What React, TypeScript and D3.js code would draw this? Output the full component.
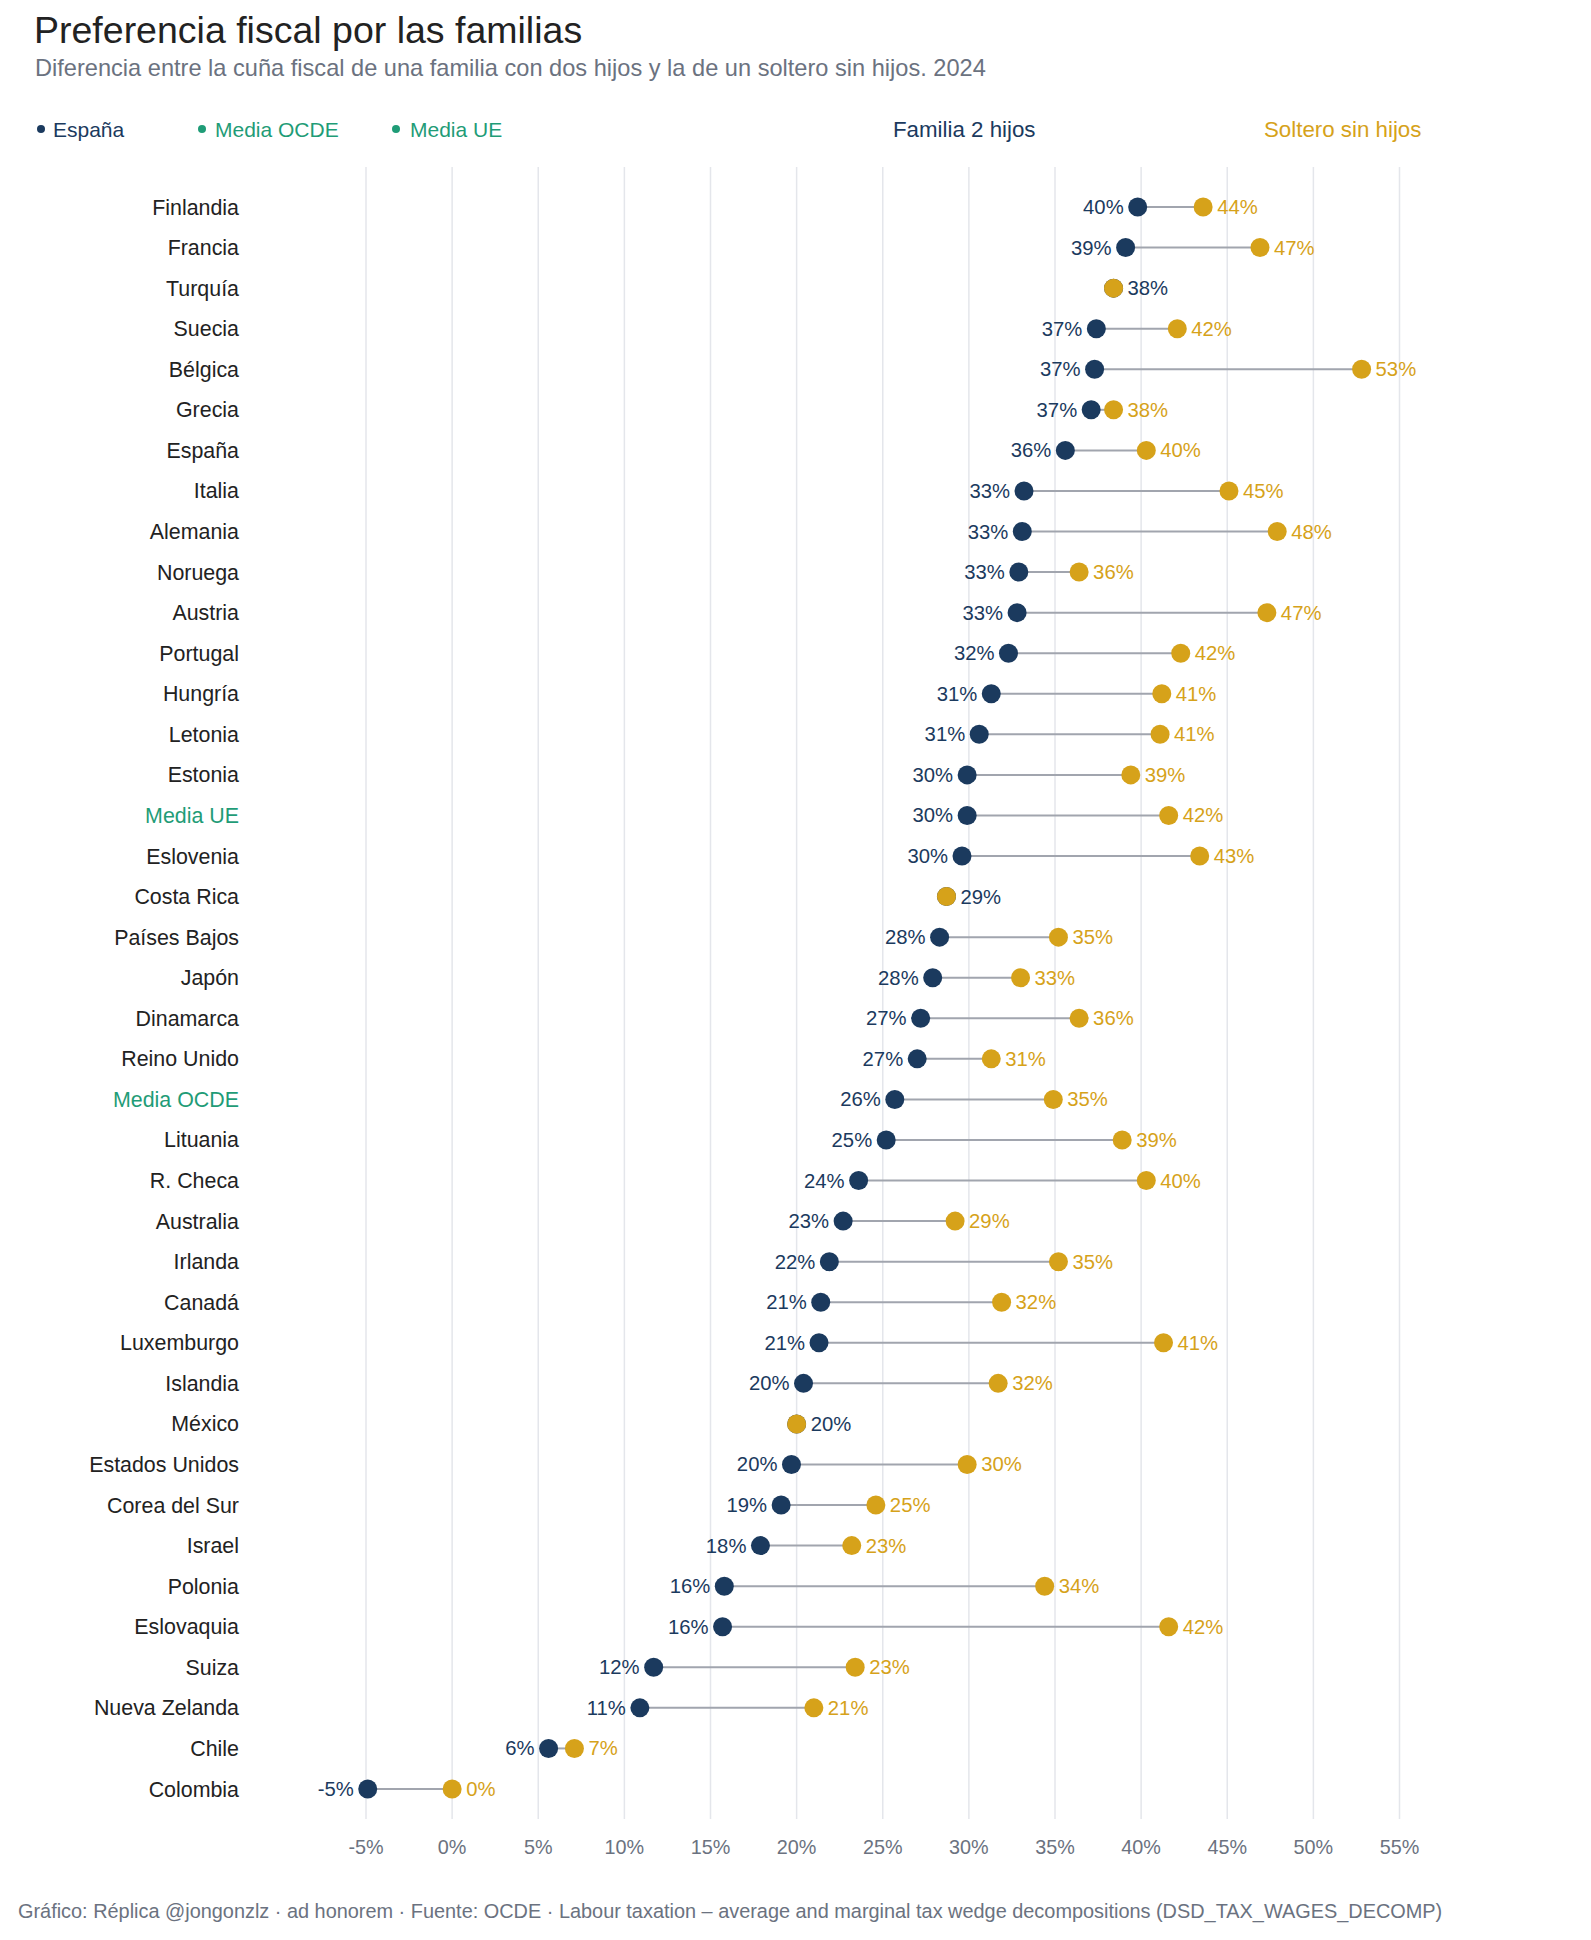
import React from "react";
import * as d3 from "d3";

// Cuña fiscal 2024 (%), familia con dos hijos vs. soltero sin hijos
const paises = [
  "Finlandia", "Francia", "Turquía", "Suecia", "Bélgica", "Grecia", "España",
  "Italia", "Alemania", "Noruega", "Austria", "Portugal", "Hungría", "Letonia",
  "Estonia", "Media UE", "Eslovenia", "Costa Rica", "Países Bajos", "Japón",
  "Dinamarca", "Reino Unido", "Media OCDE", "Lituania", "R. Checa", "Australia",
  "Irlanda", "Canadá", "Luxemburgo", "Islandia", "México", "Estados Unidos",
  "Corea del Sur", "Israel", "Polonia", "Eslovaquia", "Suiza", "Nueva Zelanda",
  "Chile", "Colombia",
];

const familia = [
  39.8, 39.1, 38.4, 37.4, 37.3, 37.1, 35.6,
  33.2, 33.1, 32.9, 32.8, 32.3, 31.3, 30.6,
  29.9, 29.9, 29.6, 28.7, 28.3, 27.9,
  27.2, 27.0, 25.7, 25.2, 23.6, 22.7,
  21.9, 21.4, 21.3, 20.4, 20.0, 19.7,
  19.1, 17.9, 15.8, 15.7, 11.7, 10.9,
  5.6, -4.9,
];

const soltero = [
  43.6, 46.9, 38.4, 42.1, 52.8, 38.4, 40.3,
  45.1, 47.9, 36.4, 47.3, 42.3, 41.2, 41.1,
  39.4, 41.6, 43.4, 28.7, 35.2, 33.0,
  36.4, 31.3, 34.9, 38.9, 40.3, 29.2,
  35.2, 31.9, 41.3, 31.7, 20.0, 29.9,
  24.6, 23.2, 34.4, 41.6, 23.4, 21.0,
  7.1, 0.0,
];

const ticks = [-5, 0, 5, 10, 15, 20, 25, 30, 35, 40, 45, 50, 55];

const medias = ["Media UE", "Media OCDE"];

const NAVY = "#1b3a5e";
const GOLD = "#d6a21a";
const GREEN = "#1f9c77";
const FONT = "'Liberation Sans', Arial, Helvetica, sans-serif";

const W = 1591;
const H = 1940;

export default function App() {
  const x = d3.scaleLinear().domain([-5, 55]).range([366, 1399.5]);
  const y = d3.scalePoint<string>().domain(paises).range([207, 1789]);
  const pct = (v: number) => `${Math.round(v)}%`;

  return (
    <svg
      width={W}
      height={H}
      style={{ position: "absolute", left: 0, top: 0, background: "#fff" }}
      fontFamily={FONT}
    >
      <text x={34} y={43} fontSize={37.5} fill="#222">
        Preferencia fiscal por las familias
      </text>
      <text x={35} y={76} fontSize={23.6} fill="#6b7280">
        Diferencia entre la cuña fiscal de una familia con dos hijos y la de un soltero sin hijos. 2024
      </text>

      {/* leyenda */}
      <g fontSize={21}>
        <circle cx={41} cy={129} r={4} fill={NAVY} />
        <text x={53} y={136.5} fill={NAVY}>España</text>
        <circle cx={202} cy={129} r={4} fill={GREEN} />
        <text x={215} y={136.5} fill={GREEN}>Media OCDE</text>
        <circle cx={396} cy={129} r={4} fill={GREEN} />
        <text x={410} y={136.5} fill={GREEN}>Media UE</text>
        <text x={893} y={137} fontSize={22.3} fill={NAVY}>Familia 2 hijos</text>
        <text x={1264} y={137} fontSize={22.3} fill={GOLD}>Soltero sin hijos</text>
      </g>

      {/* rejilla y eje x */}
      <g>
        {ticks.map((t) => (
          <g key={t}>
            <line
              x1={x(t)}
              x2={x(t)}
              y1={167}
              y2={1819}
              stroke="#e4e6eb"
              strokeWidth={1.5}
            />
            <text
              x={x(t)}
              y={1854}
              textAnchor="middle"
              fontSize={19.8}
              fill="#6b7280"
            >
              {t}%
            </text>
          </g>
        ))}
      </g>

      {/* filas */}
      {paises.map((p, i) => {
        const cy = y(p) as number;
        const a = familia[i];
        const b = soltero[i];
        const same = a === b;
        return (
          <g key={p}>
            <text
              x={239}
              y={cy + 7.5}
              textAnchor="end"
              fontSize={21.4}
              fill={medias.includes(p) ? GREEN : "#222"}
            >
              {p}
            </text>
            <line
              x1={x(a)}
              x2={x(b)}
              y1={cy}
              y2={cy}
              stroke="#a1a5ae"
              strokeWidth={2}
            />
            <circle cx={x(a)} cy={cy} r={9.5} fill={NAVY} />
            <circle cx={x(b)} cy={cy} r={9.5} fill={GOLD} />
            {same ? (
              <text x={x(b) + 14} y={cy + 7} fontSize={20.3} fill={NAVY}>
                {pct(a)}
              </text>
            ) : (
              <>
                <text
                  x={x(a) - 14}
                  y={cy + 7}
                  textAnchor="end"
                  fontSize={20.3}
                  fill={NAVY}
                >
                  {pct(a)}
                </text>
                <text x={x(b) + 14} y={cy + 7} fontSize={20.3} fill={GOLD}>
                  {pct(b)}
                </text>
              </>
            )}
          </g>
        );
      })}

      <text x={18} y={1918} fontSize={19.9} fill="#6b7280">
        Gráfico: Réplica @jongonzlz · ad honorem  ·  Fuente: OCDE · Labour taxation – average and marginal tax wedge decompositions (DSD_TAX_WAGES_DECOMP)
      </text>
    </svg>
  );
}
